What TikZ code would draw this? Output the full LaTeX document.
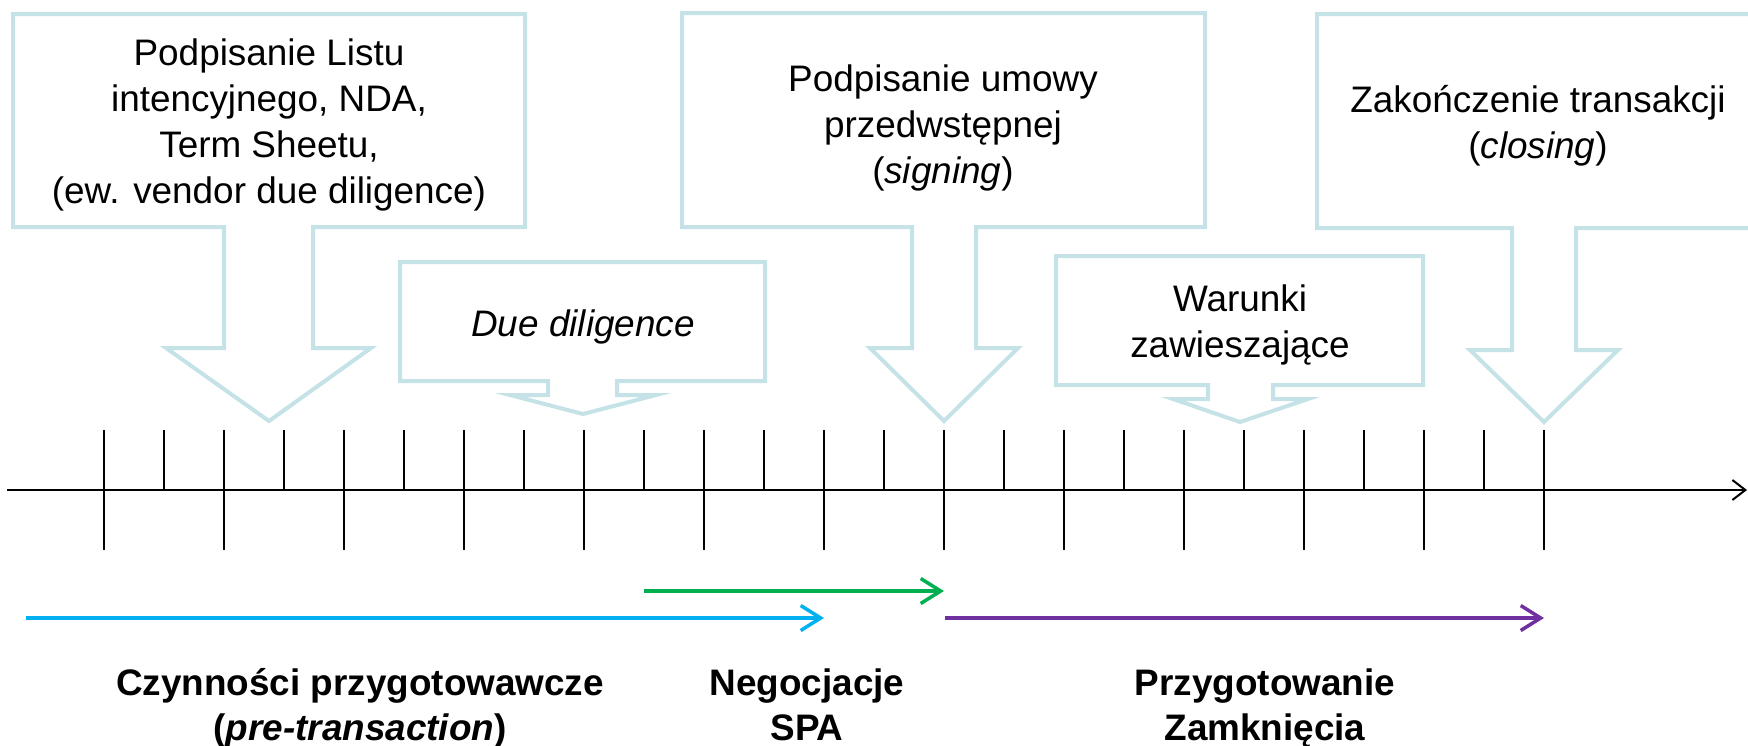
\documentclass[tikz,border=0pt]{standalone}
\usepackage{fontspec}
\setmainfont{Liberation Sans}
\usetikzlibrary{arrows.meta}

\definecolor{dymekkolor}{RGB}{197,227,231}
\definecolor{fazaniebieska}{RGB}{0,176,240}
\definecolor{fazazielona}{RGB}{0,176,80}
\definecolor{fazafioletowa}{RGB}{112,48,160}

\tikzset{
  dymek/.style={draw=dymekkolor,line width=0.08cm,fill=white},
  opis/.style={align=center,font=\fontsize{21}{26.2}\selectfont},
  faza/.style={line width=0.07cm,-{Straight Barb[length=0.4cm,width=0.5cm]}},
  etap/.style={align=center,font=\fontsize{21}{25.6}\selectfont\bfseries},
  kreska/.style={line width=0.025cm},
}

\begin{document}
\begin{tikzpicture}[x=0.02cm,y=-0.02cm]
  \useasboundingbox (0,0) rectangle (1748,745);
  \clip (0,0) rectangle (1748,745);

  % os czasu
  \coordinate (os0) at (7,490);
  \coordinate (os1) at (1747,490);
  \draw[line width=0.04cm,-{Straight Barb[length=0.26cm,width=0.4cm]}] (os0) -- (os1);
  \foreach \i in {0,...,24}
    \draw[kreska] (104+60*\i,430) -- (104+60*\i,490);
  \foreach \i in {0,2,...,24}
    \draw[kreska] (104+60*\i,490) -- (104+60*\i,550);

  % dymki
  \draw[dymek] (13,14) -- (525,14) -- (525,227) -- (313,227) -- (313,348) -- (371,348)
    -- (269,421) -- (166,348) -- (224,348) -- (224,227) -- (13,227) -- cycle;
  \draw[dymek] (682,13) -- (1205,13) -- (1205,227) -- (976,227) -- (976,348) -- (1018,348)
    -- (944,421) -- (870,348) -- (912,348) -- (912,227) -- (682,227) -- cycle;
  \draw[dymek] (1317,14) -- (1760,14) -- (1760,228) -- (1576,228) -- (1576,350) -- (1618,350)
    -- (1544,422) -- (1470,350) -- (1512,350) -- (1512,228) -- (1317,228) -- cycle;
  \draw[dymek] (400,262) -- (765,262) -- (765,381) -- (617,381) -- (617,395) -- (656,395)
    -- (583,414) -- (510,395) -- (548,395) -- (548,381) -- (400,381) -- cycle;
  \draw[dymek] (1056,256) -- (1423,256) -- (1423,385) -- (1273,385) -- (1273,399) -- (1308,399)
    -- (1240,422) -- (1173,399) -- (1208,399) -- (1208,385) -- (1056,385) -- cycle;

  \node[opis] (list) at (269,125) {Podpisanie Listu\\intencyjnego, NDA,\\Term Sheetu,\\(ew. vendor due diligence)};
  \node[opis] (umowa) at (943,128) {Podpisanie umowy\\przedwstępnej\\(\textit{signing})};
  \node[opis] (closing) at (1538,126) {Zakończenie transakcji\\(\textit{closing})};
  \node[opis] (dd) at (583,327) {\textit{Due diligence}};
  \node[opis] (warunki) at (1240,325) {Warunki\\zawieszające};

  % fazy
  \coordinate (nieb0) at (26,618);
  \coordinate (nieb1) at (824,618);
  \coordinate (ziel0) at (644,591);
  \coordinate (ziel1) at (944,591);
  \coordinate (fiol0) at (945,618);
  \coordinate (fiol1) at (1544,618);
  \draw[faza,fazaniebieska] (nieb0) -- (nieb1);
  \draw[faza,fazazielona] (ziel0) -- (ziel1);
  \draw[faza,fazafioletowa] (fiol0) -- (fiol1);

  \node[etap,anchor=base] (czynnosci) at (360,740) {Czynności przygotowawcze\\(\textit{pre-transaction})};
  \node[etap,anchor=base] (negocjacje) at (807,740) {Negocjacje\\SPA};
  \node[etap,anchor=base] (zamkniecie) at (1265,740) {Przygotowanie\\Zamknięcia};
\end{tikzpicture}
\end{document}
